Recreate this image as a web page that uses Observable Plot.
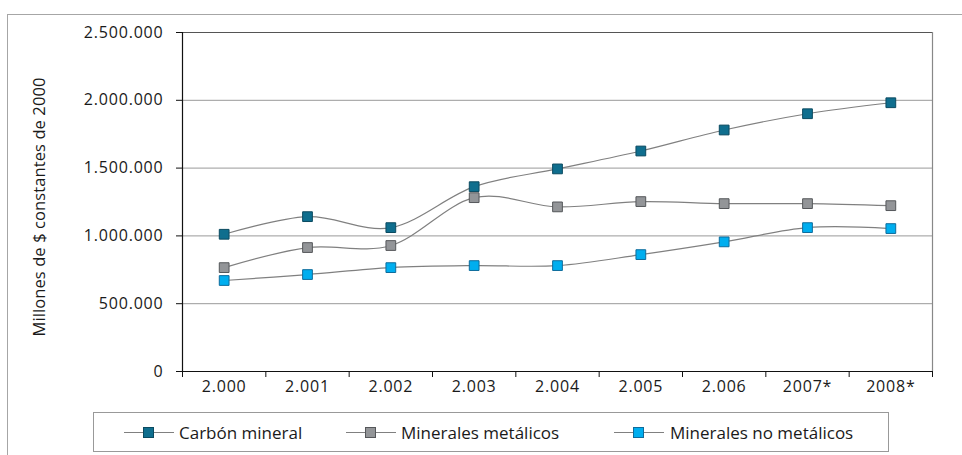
<!DOCTYPE html>
<html><head><meta charset="utf-8">
<script src="https://cdn.jsdelivr.net/npm/d3@7"></script>
<script src="https://cdn.jsdelivr.net/npm/@observablehq/plot@0.6"></script>
<style>
body{margin:0;background:#fff;font-family:"Open Sans",sans-serif;}
#wrap{position:relative;width:962px;height:455px;overflow:hidden;}
#frame{position:absolute;left:7px;top:14px;width:980px;height:480px;border-left:1.5px solid #a6a6a6;border-top:1.5px solid #a6a6a6;}
#chart{position:absolute;left:0;top:0;}
#legend{position:absolute;left:93px;top:412px;width:796px;height:40px;border:1px solid #999;box-sizing:border-box;background:#fff;}
.item{position:absolute;top:0;height:38px;display:flex;align-items:center;font-size:17px;color:#1a1a1a;white-space:nowrap;}
</style>
</head><body>
<div id="wrap"><div id="frame"></div><div id="chart"></div><div id="legend"></div></div>
<script>
const years = ["2.000","2.001","2.002","2.003","2.004","2.005","2.006","2007*","2008*"];
const carbonMineral = [1012000,1142000,1061000,1363000,1494000,1626000,1781000,1901000,1982000];
const mineralesMetalicos = [766000,914000,929000,1282000,1214000,1253000,1238000,1238000,1223000];
const mineralesNoMetalicos = [671000,715000,766000,781000,781000,862000,956000,1061000,1054000];
const seriesNames = ["Carbón mineral","Minerales metálicos","Minerales no metálicos"];
const yTicks = [0,500000,1000000,1500000,2000000,2500000];
const yLabel = "Millones de $ constantes de 2000";

const series = [
  {name: seriesNames[0], values: carbonMineral, fill: "#0f6e8e", stroke: "#0b4a60"},
  {name: seriesNames[1], values: mineralesMetalicos, fill: "#939598", stroke: "#55575a"},
  {name: seriesNames[2], values: mineralesNoMetalicos, fill: "#00aeef", stroke: "#0e6c9c"}
];
const data = series.map(s => s.values.map((v, i) => ({i, v, s: s.name})));
const fmt = d3.formatLocale({decimal: ",", thousands: ".", grouping: [3], currency: ["$", ""]}).format(",d");
const idx = d3.range(years.length);
const bounds = d3.range(years.length + 1).map(i => i - 0.5);
const yMax = yTicks[yTicks.length - 1];

const marks = [
  Plot.ruleY(yTicks.filter(d => d > 0 && d < yMax), {stroke: "#999", strokeWidth: 1}),
  Plot.ruleY([yMax], {stroke: "#555", strokeWidth: 1.2}),
  Plot.ruleX([bounds[bounds.length - 1]], {stroke: "#888", strokeWidth: 1.2}),
  Plot.ruleX([bounds[0]], {stroke: "#111", strokeWidth: 1.2}),
  Plot.ruleY([0], {stroke: "#111", strokeWidth: 1.2}),
  Plot.axisY({ticks: yTicks, tickFormat: fmt, tickSize: 6, tickPadding: 13, stroke: "#111", fill: "#1a1a1a", label: null}),
  Plot.axisX({ticks: bounds, tickFormat: () => "", tickSize: 6, stroke: "#111", label: null}),
  Plot.axisX({ticks: idx, tickFormat: i => years[i], tickSize: 0, tickPadding: 9, fill: "#1a1a1a", label: null}),
  Plot.text([yLabel], {frameAnchor: "left", textAnchor: "middle", dx: -143, dy: 5, rotate: -90, fill: "#1a1a1a", fontSize: 16.5, text: d => d})
];
series.forEach((s, k) => {
  marks.push(Plot.line(data[k], {x: "i", y: "v", curve: "cardinal", stroke: "#808080", strokeWidth: 1.2}));
});
series.forEach((s, k) => {
  marks.push(Plot.dot(data[k], {x: "i", y: "v", symbol: "square", r: 5.5, fill: s.fill, stroke: s.stroke, strokeWidth: 1}));
});

const plot = Plot.plot({
  width: 962, height: 455,
  marginLeft: 182, marginRight: 30, marginTop: 32, marginBottom: 84,
  x: {type: "linear", domain: [bounds[0], bounds[bounds.length - 1]], axis: null},
  y: {domain: [0, yMax], axis: null},
  style: {fontFamily: "'Open Sans', sans-serif", fontSize: "16px", letterSpacing: "0.8px", background: "transparent"},
  marks
});
document.getElementById("chart").appendChild(plot);
// the rotated axis title uses normal letter spacing
plot.querySelectorAll("text").forEach(t => { if (t.textContent === yLabel) t.style.letterSpacing = "0.1px"; });

const legendPos = [[30, 85], [252, 307], [520, 576]];
const legend = document.getElementById("legend");
series.forEach((s, k) => {
  const it = document.createElement("div");
  it.className = "item";
  it.style.left = legendPos[k][0] + "px";
  it.innerHTML = `<svg width="50" height="13"><line x1="0" x2="50" y1="6.5" y2="6.5" stroke="#808080" stroke-width="1.2"/><rect x="19.5" y="1.5" width="10" height="10" fill="${s.fill}" stroke="${s.stroke}"/></svg>`;
  const t = document.createElement("span");
  t.textContent = s.name;
  t.style.position = "absolute";
  t.style.left = (legendPos[k][1] - legendPos[k][0]) + "px";
  it.appendChild(t);
  legend.appendChild(it);
});
</script>
</body></html>
